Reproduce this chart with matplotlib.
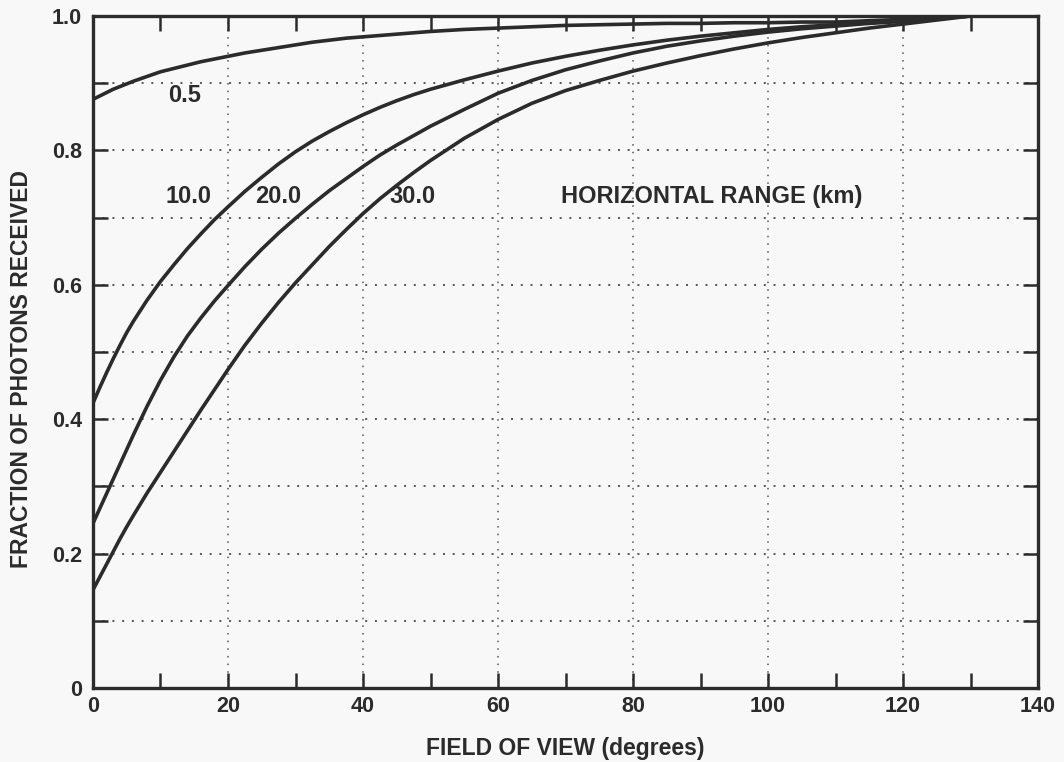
import numpy as np
import matplotlib.pyplot as plt
from matplotlib.ticker import MultipleLocator, FuncFormatter

# field of view (degrees) and fraction of photons received per horizontal range
fov = [0, 1, 2, 3, 4, 5, 6, 8, 10, 12, 14, 16, 18, 20, 22.5, 25, 27.5, 30,
       32.5, 35, 37.5, 40, 42.5, 45, 47.5, 50, 55, 60, 65, 70, 75, 80, 85,
       90, 95, 100, 105, 110, 115, 120, 125, 130, 135, 140]
frac_05 = [0.876, 0.881, 0.886, 0.891, 0.895, 0.899, 0.903, 0.910, 0.917, 0.922,
           0.927, 0.932, 0.936, 0.940, 0.945, 0.949, 0.953, 0.957, 0.961, 0.964,
           0.967, 0.969, 0.971, 0.973, 0.975, 0.977, 0.980, 0.982, 0.984, 0.986,
           0.987, 0.988, 0.989, 0.989, 0.990, 0.990, 0.991, 0.991, 0.993, 0.995,
           0.998, 1.0, 1.0, 1.0]
frac_10 = [0.424, 0.447, 0.469, 0.490, 0.510, 0.529, 0.546, 0.577, 0.605, 0.630,
           0.654, 0.676, 0.697, 0.716, 0.739, 0.760, 0.780, 0.798, 0.814, 0.828,
           0.841, 0.853, 0.864, 0.874, 0.883, 0.891, 0.905, 0.918, 0.930, 0.940,
           0.949, 0.957, 0.964, 0.970, 0.975, 0.980, 0.984, 0.987, 0.990, 0.993,
           0.997, 1.0, 1.0, 1.0]
frac_20 = [0.245, 0.267, 0.289, 0.311, 0.333, 0.355, 0.377, 0.419, 0.458, 0.493,
           0.524, 0.551, 0.576, 0.599, 0.627, 0.653, 0.677, 0.699, 0.720, 0.740,
           0.758, 0.776, 0.793, 0.808, 0.822, 0.836, 0.861, 0.885, 0.904, 0.920,
           0.933, 0.945, 0.955, 0.963, 0.970, 0.976, 0.981, 0.985, 0.989, 0.992,
           0.996, 1.0, 1.0, 1.0]
frac_30 = [0.146, 0.165, 0.184, 0.203, 0.222, 0.240, 0.257, 0.290, 0.321, 0.352,
           0.383, 0.414, 0.444, 0.474, 0.510, 0.543, 0.574, 0.603, 0.630, 0.657,
           0.682, 0.706, 0.728, 0.748, 0.767, 0.785, 0.818, 0.846, 0.870, 0.889,
           0.904, 0.918, 0.930, 0.941, 0.951, 0.960, 0.968, 0.975, 0.982, 0.988,
           0.994, 1.0, 1.0, 1.0]
curve_labels = ['0.5', '10.0', '20.0', '30.0']
label_pos = [(13.6, 0.882), (14.1, 0.732), (27.4, 0.732), (47.3, 0.732)]

ink = '#2b2b2b'
plt.rcParams['font.family'] = ['Liberation Sans', 'DejaVu Sans']
plt.rcParams['font.weight'] = 'bold'

fig = plt.figure(figsize=(10.64, 7.62), dpi=100, facecolor='#f8f8f8')
ax = fig.add_axes([0.0874, 0.0971, 0.8882, 0.8819])
ax.set_facecolor('#f8f8f8')

for ys in [frac_05, frac_10, frac_20, frac_30]:
    ax.plot(fov, ys, color=ink, lw=2.6, solid_joinstyle='round', zorder=3)

for txt, (x, y) in zip(curve_labels, label_pos):
    ax.text(x, y, txt, ha='center', va='center', color=ink, fontsize=17,
            fontweight='bold')
ax.text(91.7, 0.732, 'HORIZONTAL RANGE (km)', ha='center', va='center',
        color=ink, fontsize=17, fontweight='bold')

ax.set_xlim(0, 140)
ax.set_ylim(0, 1.0)
ax.xaxis.set_major_locator(MultipleLocator(20))
ax.xaxis.set_minor_locator(MultipleLocator(10))
ax.yaxis.set_major_locator(MultipleLocator(0.2))
ax.yaxis.set_minor_locator(MultipleLocator(0.1))
ax.yaxis.set_major_formatter(FuncFormatter(lambda v, p: '0' if abs(v) < 1e-9 else f'{v:.1f}'))

ax.tick_params(which='both', direction='in', top=True, right=True,
               length=11, width=1.8, color=ink, labelcolor=ink, labelsize=15.5)
ax.tick_params(axis='x', which='major', pad=6)
ax.tick_params(axis='y', which='major', pad=8)

# dotted grid: verticals every 20 deg, horizontals every 0.1
for gx in range(20, 140, 20):
    ax.axvline(gx, color='#555555', lw=1.1, ls=(0, (1, 4)), zorder=1)
for gy in np.arange(0.1, 1.0, 0.1):
    ax.axhline(gy, color='#555555', lw=1.4, ls=(0, (1, 4)), zorder=1)

for s in ax.spines.values():
    s.set_linewidth(2.4)
    s.set_color(ink)

ax.set_xlabel('FIELD OF VIEW (degrees)', color=ink, fontweight='bold',
              fontsize=16.5, labelpad=14)
ax.set_ylabel('FRACTION OF PHOTONS RECEIVED', color=ink, fontweight='bold',
              fontsize=16.5, labelpad=10)
ax.yaxis.set_label_coords(-0.064, 0.475)

fig.savefig('out.png', dpi=100, facecolor=fig.get_facecolor())
